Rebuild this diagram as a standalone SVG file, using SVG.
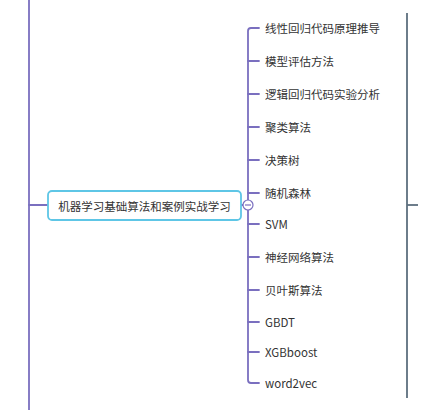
<svg xmlns="http://www.w3.org/2000/svg" width="426" height="410" viewBox="0 0 426 410">
<style>
.lbl{font-family:"Noto Sans CJK SC","Liberation Sans",sans-serif;font-size:11.5px;fill:#333;dominant-baseline:central}
.br{fill:none;stroke:#7a6fbf;stroke-width:1.8;stroke-linecap:round}
</style>
<rect width="426" height="410" fill="#fff"/>
<g id="connectors">
<line class="br" x1="29" y1="0" x2="29" y2="410"/>
<line class="br" x1="29" y1="205" x2="48" y2="205"/>
<line class="br" x1="241" y1="205" x2="243" y2="205"/>
<path class="br" d="M259 28 H251 Q248 28 248 31 V380 Q248 383 251 383 H259"/>
<path class="br" d="M248 61 H259 M248 94 H259 M248 127 H259 M248 160 H259 M248 193 H259 M248 224 H259 M248 257 H259 M248 290 H259 M248 322 H259 M248 352 H259"/>
<line x1="407" y1="13" x2="407" y2="398" stroke="#5d6f7e" stroke-width="1.8"/>
<line x1="407" y1="205" x2="418" y2="205" stroke="#5d6f7e" stroke-width="1.8"/>
</g>
<g id="root">
<rect x="48" y="191" width="193" height="29" rx="4" fill="#fff" stroke="#5ec6e6" stroke-width="1.8"/>
<text class="lbl" x="144.5" y="205.5" text-anchor="middle">机器学习基础算法和案例实战学习</text>
<circle cx="248" cy="205" r="5" fill="#fff" stroke="#7a6fbf" stroke-width="1.2"/>
<line x1="245" y1="205" x2="251" y2="205" stroke="#7a6fbf" stroke-width="1.2"/>
</g>
<g id="n1"><text class="lbl" x="265" y="28">线性回归代码原理推导</text></g>
<g id="n2"><text class="lbl" x="265" y="61">模型评估方法</text></g>
<g id="n3"><text class="lbl" x="265" y="94">逻辑回归代码实验分析</text></g>
<g id="n4"><text class="lbl" x="265" y="127">聚类算法</text></g>
<g id="n5"><text class="lbl" x="265" y="160">决策树</text></g>
<g id="n6"><text class="lbl" x="265" y="193">随机森林</text></g>
<g id="n7"><text class="lbl" x="265" y="224">SVM</text></g>
<g id="n8"><text class="lbl" x="265" y="257">神经网络算法</text></g>
<g id="n9"><text class="lbl" x="265" y="290">贝叶斯算法</text></g>
<g id="n10"><text class="lbl" x="265" y="322">GBDT</text></g>
<g id="n11"><text class="lbl" x="265" y="352">XGBboost</text></g>
<g id="n12"><text class="lbl" x="265" y="383">word2vec</text></g>
</svg>
